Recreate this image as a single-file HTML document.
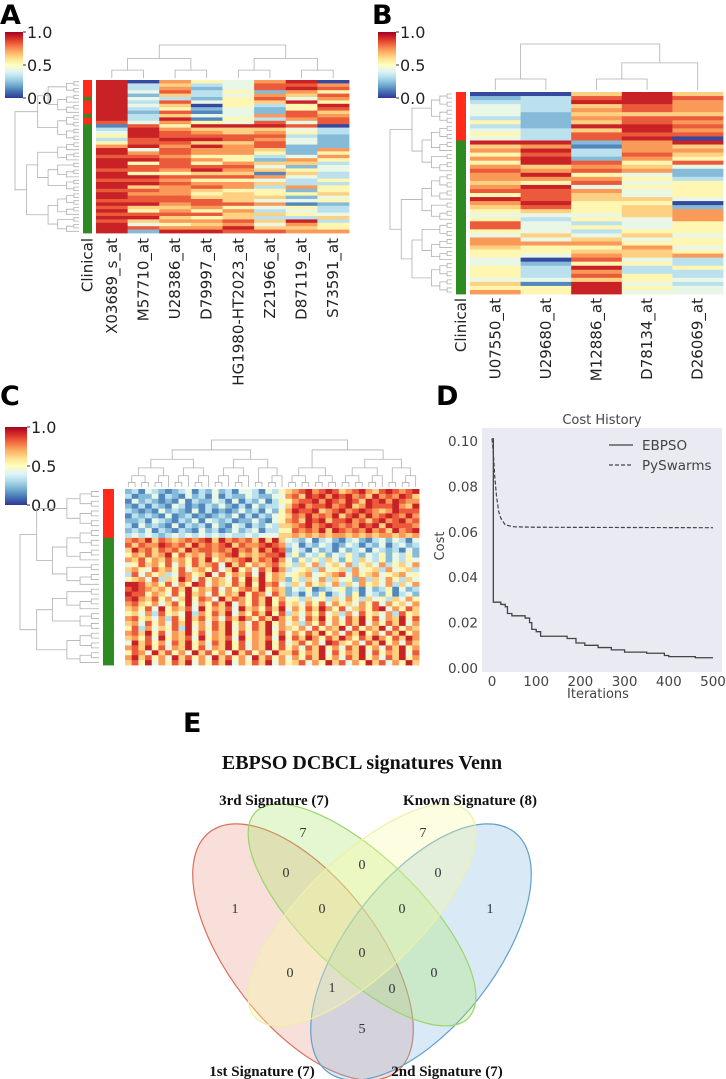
<!DOCTYPE html>
<html><head><meta charset="utf-8"><style>
html,body{margin:0;padding:0;background:#fff}
svg{display:block;font-family:"DejaVu Sans","Liberation Sans",sans-serif}
</style></head><body>
<svg id="fig" width="726" height="1079" viewBox="0 0 726 1079">
<defs>
<linearGradient id="cmap" x1="0" y1="1" x2="0" y2="0">
<stop offset="0" stop-color="#313695"/><stop offset="0.1" stop-color="#4575b4"/><stop offset="0.2" stop-color="#74add1"/><stop offset="0.3" stop-color="#abd9e9"/><stop offset="0.4" stop-color="#e0f3f8"/><stop offset="0.5" stop-color="#ffffbf"/><stop offset="0.6" stop-color="#fee090"/><stop offset="0.7" stop-color="#fdae61"/><stop offset="0.8" stop-color="#f46d43"/><stop offset="0.9" stop-color="#d73027"/><stop offset="1" stop-color="#a50026"/>
</linearGradient>
</defs>
<g font-weight="bold" font-size="27" fill="#000">
<text x="0" y="24">A</text>
<text x="372" y="24">B</text>
<text x="0" y="405">C</text>
<text x="436" y="405">D</text>
<text x="183" y="732">E</text>
</g>
<g id="A"></g>
<g id="B"></g>
<g id="C"></g>
<g id="D"></g>
<g id="E"></g>
</svg>
<script>
// ---------- Heatmap data (digit 0-9) ----------
const aGenes = ["X03689_s_at","M57710_at","U28386_at","D79997_at","HG1980-HT2023_at","Z21966_at","D87119_at","S73591_at"];
const aRows = ["90754790","93634887","93724898","94835275","92634768","94325847","93845695","94605359","93524258","92814286","93644787","93915378","84754848","18599980","39766643","49876753","59888832","38998742","58866842","79797822","94877627","97877525","88755347","99875275","95857663","98888424","88797654","95566163","99888743","88755435","99877633","96787375","88765525","97756556","98866624","88886445","99788712","86675453","95757343","88886654","99656336","86778693","94567475","98779665","92998877"];
const aClinical = "RRRRRGRRRRGRRGGGGGGGGGGGGGGGGGGGGGGGGGGGGGGGG";
const bGenes = ["U07550_at","U29680_at","M12886_at","D78134_at","D26069_at"];
const bRows = ["00696","23898","33997","43687","43787","42666","32788","52687","32998","43697","53888","43890","99279","67176","79377","58386","79275","59858","76764","87872","79542","77753","65845","79455","88745","58645","98664","79550","68562","56567","44467","53547","84345","84545","54355","46464","74645","77755","65574","55665","54767","40843","42553","53935","53733","53853","44654","61943","55954","75944"];
const bClinical = "RRRRRRRRRRRRGGGGGGGGGGGGGGGGGGGGGGGGGGGGGGGGGGGGGG";
const cRows = [
"23143212341324231443143567897898678976898789","31224132142314132243224478698979897869787986",
"14232121413224314132413557889798798698979877","21313214312132421314233468978897896798889769",
"32121423214131212423142579889678978987679888","13232141231212324131324568797879689797898797",
"22314321324143231224214578698968897868978978","31423214132314214313243667897898787989698887",
"23241321321423124234133558787969878797869789","34343234343434343343444667676767767676776767",
"78796876787896978786969643241342134213424314","86877987869787896877898734132431243132413423",
"69786878697887879786979824314231423414323142","57686795867686789676788935243524353243524352",
"76857686758695767896879742535364253643524354","45867584758678496857678653647356473564735647",
"67548675846758469574869734563745637456374563","38475634875694857684957645674567847567456745",
"56748365974857648596957625364736452736475364","99867584759847658695978436475647364756473647",
"89876758695768475786957624351234523142351423","98857648596748576958748623142513425143251342",
"89768574695874968758695745364536475364536475","78657468594758694758695856475847564758475647",
"67584957684957684967586947586975846758947586","56473856493758694758695836475846374856473856",
"78564738596857486975869757486957486958476958","67485748695748695748695746375847586947586947",
"58374658394758694758694765748576948576948576","78695847695847695847695847586957486957486957",
"67584957684957684957684958697586975869758697","49685748695748695847695846857498657486957486",
"78695847695847695847695857486957486957486957","58749685749685749685749668576948576948576948",
"79685749685749685749685747586957486957486957","68594758694758694758694756847596847596847596"];
const cClinical = "RRRRRRRRRRGGGGGGGGGGGGGGGGGGGGGGGGGG";
// ---------- Cost history data ----------
const ebIter = [0,3,20,30,35,45,75,85,90,100,110,170,190,210,240,270,300,350,390,400,460,500];
const ebCost = [0.101,0.029,0.028,0.027,0.024,0.023,0.022,0.020,0.017,0.016,0.014,0.013,0.011,0.010,0.009,0.008,0.007,0.0065,0.0055,0.005,0.0045,0.0045];
const pyIter = [0,3,6,10,15,20,30,50,100,500];
const pyCost = [0.101,0.095,0.085,0.076,0.069,0.066,0.063,0.0622,0.062,0.0618];
const xTicks = [0,100,200,300,400,500];
const yTicks = [0,0.02,0.04,0.06,0.08,0.10];
// ---------- Venn data ----------
const vennSets = ["1st Signature (7)","2nd Signature (7)","3rd Signature (7)","Known Signature (8)"];
const vennCounts = ["7","7","0","0","0","1","0","0","1","0","0","0","1","0","5"];
const vennPos = [[303,837],[423,837],[286,877],[362,869],[438,877],[235,913],[322,913],[402,913],[490,913],[362,957],[290,977],[434,977],[332,992],[392,993],[362,1033]];

const NS="http://www.w3.org/2000/svg";
function mk(parent,tag,attrs,text){const e=document.createElementNS(NS,tag);for(const k in attrs)e.setAttribute(k,attrs[k]);if(text!==undefined)e.textContent=text;parent.appendChild(e);return e;}
const stops=[[49,54,149],[69,117,180],[116,173,209],[171,217,233],[224,243,248],[255,255,191],[254,224,144],[253,174,97],[244,109,67],[215,48,39],[165,0,38]];
function cmap(v){v=Math.max(0,Math.min(1,v))*10;const i=Math.min(9,Math.floor(v)),t=v-i;const a=stops[i],b=stops[i+1];return `rgb(${Math.round(a[0]+(b[0]-a[0])*t)},${Math.round(a[1]+(b[1]-a[1])*t)},${Math.round(a[2]+(b[2]-a[2])*t)})`;}
function dv(d){return 0.03+(+d)*0.1;}

function colorbar(g,x,y,w,h){
  const r=mk(g,'rect',{x:x,y:y,width:w,height:h,fill:'url(#cmap)'});
  
  
  [[1,'1.0'],[0.5,'0.5'],[0,'0.0']].forEach(([v,l])=>{const yy=y+h*(1-v);
    mk(g,'line',{x1:x+w,x2:x+w+3,y1:yy,y2:yy,stroke:'#333','stroke-width':1});
    const t=mk(g,'text',{x:x+w+4,y:yy+6,'font-size':16,fill:'#222'},l);
    
    });
}
function dendro(g,leaves,base,top,orient){
  function build(lo,hi){if(hi-lo===1)return{p:leaves[lo],h:0};
    const mid=lo+Math.max(1,Math.round((hi-lo)*((lo*7+hi*3)%5===0?0.4:0.55)));
    const a=build(lo,mid),b=build(mid,hi);const h=Math.max(a.h,b.h)+1;return{p:(a.p+b.p)/2,h:h,a:a,b:b};}
  const root=build(0,leaves.length);const H=root.h;
  function hp(h){return base+(top-base)*Math.pow(h/H,1.3);}
  function draw(n){if(!n.a)return;const y=hp(n.h),ya=hp(n.a.h),yb=hp(n.b.h);
    const d=orient==='top'?`M${n.a.p},${ya}V${y}H${n.b.p}V${yb}`:`M${ya},${n.a.p}H${y}V${n.b.p}H${yb}`;
    mk(g,'path',{d:d,fill:'none',stroke:'#b0b0b0','stroke-width':0.8});draw(n.a);draw(n.b);}
  draw(root);
}
function heatmap(id,rows,genes,clin,x0,y0,w,h,clx,clw,rowRoot,colRoot,labelY){
  const g=document.getElementById(id);
  const nr=rows.length,nc=rows[0].length,cw=w/nc,rh=h/nr;
  rows.forEach((r,i)=>{for(let j=0;j<nc;j++){
    const c=mk(g,'rect',{x:x0+j*cw,y:y0+i*rh,width:cw+0.4,height:rh+0.4,fill:cmap(dv(r[j]))});
    
    }
    const cl=mk(g,'rect',{x:clx,y:y0+i*rh,width:clw,height:rh+0.4,fill:clin[i]==='R'?'#ff2a1a':'#2e8b22'});
    
    });
  dendro(g,rows.map((_,i)=>y0+(i+0.5)*rh),clx-4,rowRoot,'left');
  dendro(g,Array.from({length:nc},(_,j)=>x0+(j+0.5)*cw),y0-2,colRoot,'top');
  if(genes){
    const all=[['Clinical',clx+clw/2]].concat(genes.map((s,j)=>[s,x0+(j+0.5)*cw]));
    all.forEach(([s,x])=>{const t=mk(g,'text',{x:0,y:0,'font-size':15,fill:'#222','text-anchor':'end',transform:`translate(${x+5},${labelY}) rotate(-90)`},s);
      
      });
  }
}
colorbar(document.getElementById('A'),5,32,18,66);
heatmap('A',aRows,aGenes,aClinical,96,80,253,153,83,9,15,45,238);
colorbar(document.getElementById('B'),378,32,18,66);
heatmap('B',bRows,bGenes,bClinical,470,92,253,202,456,10,390,44,298);
colorbar(document.getElementById('C'),5,427,22,78);
heatmap('C',cRows,null,cClinical,125,489,294,176,103,11,20,440,0);

// ---------- D: cost history ----------
(function(){
  const g=document.getElementById('D');
  const L=482,R=722,T=428,B=672;
  const X=v=>492+(713-492)*v/500, Y=v=>668-(668-441)*v/0.10;
  const bg=mk(g,'rect',{x:L,y:T,width:R-L,height:B-T,fill:'#eaeaf2'});
  
  
  const tt=mk(g,'text',{x:(L+R)/2,y:T-4,'font-size':13,fill:'#444','text-anchor':'middle'},'Cost History');
  
  
  xTicks.forEach(v=>{const t=mk(g,'text',{x:X(v),y:B+14,'font-size':13.5,fill:'#444','text-anchor':'middle'},String(v));
    
    });
  yTicks.forEach(v=>{const t=mk(g,'text',{x:L-4,y:Y(v)+5,'font-size':13.5,fill:'#444','text-anchor':'end'},v.toFixed(2));
    
    });
  const xl=mk(g,'text',{x:(L+R)/2-4,y:B+26,'font-size':13,fill:'#444','text-anchor':'middle'},'Iterations');
  
  
  const yl=mk(g,'text',{x:0,y:0,'font-size':13,fill:'#444','text-anchor':'middle',transform:`translate(444,${(T+B)/2-4}) rotate(-90)`},'Cost');
  
  
  let d='';ebIter.forEach((it,i)=>{d+=(i?`H${X(it)}V${Y(ebCost[i])}`:`M${X(it)},${Y(ebCost[i])}`);});
  const l1=mk(g,'path',{d:d,fill:'none',stroke:'#444','stroke-width':1.3});
  
  
  const l2=mk(g,'path',{d:pyIter.map((it,i)=>(i?'L':'M')+X(it)+','+Y(pyCost[i])).join(''),fill:'none',stroke:'#444','stroke-width':1.2,'stroke-dasharray':'4,2'});
  
  
  mk(g,'line',{x1:609,x2:633,y1:445,y2:445,stroke:'#444','stroke-width':1.3});
  mk(g,'line',{x1:609,x2:633,y1:465,y2:465,stroke:'#444','stroke-width':1.2,'stroke-dasharray':'4,2'});
  const e1=mk(g,'text',{x:642,y:450,'font-size':13.5,fill:'#444'},'EBPSO');
  
  
  const e2=mk(g,'text',{x:642,y:470,'font-size':13.5,fill:'#444'},'PySwarms');
  
  
})();

// ---------- E: Venn ----------
(function(){
  const g=document.getElementById('E');
  const ff='"Liberation Serif",serif';
  const t=mk(g,'text',{x:362,y:769,'font-size':20,'font-weight':'bold','font-family':ff,'text-anchor':'middle',fill:'#111'},'EBPSO DCBCL signatures Venn');
  
  
  const ells=[
    [303,952,152,74,52,'rgba(230,140,120,0.28)','#d9705a'],
    [421,952,152,74,-52,'rgba(130,185,225,0.30)','#5f9fcc'],
    [362,915,148,58,44,'rgba(170,228,100,0.30)','#9bd46a'],
    [362,915,148,58,-44,'rgba(245,248,170,0.35)','#eef0a8']];
  ells.forEach((e,i)=>{const el=mk(g,'ellipse',{cx:0,cy:0,rx:e[2],ry:e[3],fill:e[5],stroke:e[6],'stroke-width':1.2,transform:`translate(${e[0]},${e[1]}) rotate(${e[4]})`});
    
    });
  vennCounts.forEach((c,i)=>{const tx=mk(g,'text',{x:vennPos[i][0],y:vennPos[i][1],'font-size':14,'font-family':ff,'text-anchor':'middle',fill:'#333'},c);
    
    });
  const lp=[[262,1076],[447,1076],[274,805],[470,805]];
  vennSets.forEach((s,i)=>{const tx=mk(g,'text',{x:lp[i][0],y:lp[i][1],'font-size':15,'font-weight':'bold','font-family':ff,'text-anchor':'middle',fill:'#111'},s);
    
    });
})();
</script>
</body></html>
